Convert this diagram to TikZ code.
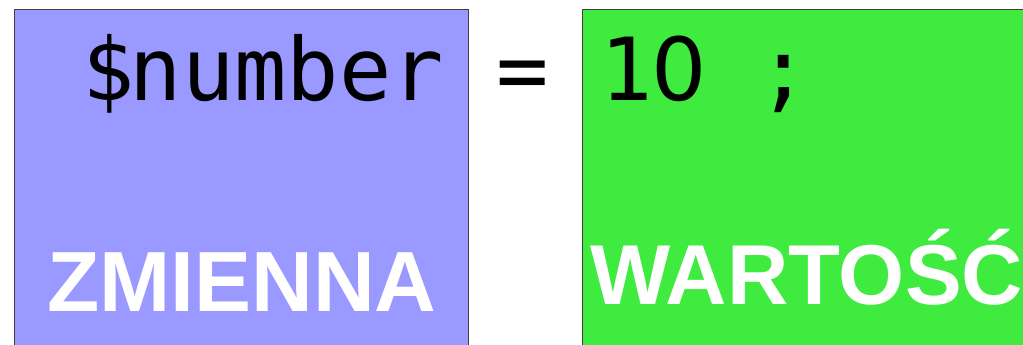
\documentclass[tikz,border=0pt]{standalone}
\usepackage{fontspec}
\setmainfont{Liberation Sans}
\newfontfamily\monof{DejaVu Sans Mono}
\newfontfamily\plainf{DejaVu Sans}
\definecolor{varblue}{HTML}{9999FF}
\definecolor{valgreen}{HTML}{3FEB3F}
\tikzset{
  boxfill/.style={draw=black!75, line width=1pt},
  codetext/.style={anchor=base west, inner sep=0pt, text=black, font=\monof\fontsize{87}{87}\selectfont},
  labeltext/.style={anchor=base west, inner sep=0pt, text=white, font=\bfseries\fontsize{85.5}{85.5}\selectfont}
}
\begin{document}
\begin{tikzpicture}[x=1pt,y=-1pt]
\useasboundingbox (0,0) rectangle (1023,345);
\clip (0,0) rectangle (1023,345);
\fill[white] (0,0) rectangle (1023,345);
\filldraw[boxfill, fill=varblue] (14,10) rectangle (468,370);
\filldraw[boxfill, fill=valgreen] (582,10) rectangle (1060,370);
\node[codetext] (var) at (77,100) {\kern0.06em\$\kern-0.06em number};
\node[codetext] (eq) at (496,100) {=};
\node[codetext] (val) at (600,100) {1\makebox[0.602em][c]{\plainf 0} ;};
\node[labeltext] (lblvar) at (47,311) {ZMIENNA};
\node[labeltext, font=\bfseries\fontsize{85}{85}\selectfont] (lblval) at (590,304) {WARTOŚĆ};
\end{tikzpicture}
\end{document}
